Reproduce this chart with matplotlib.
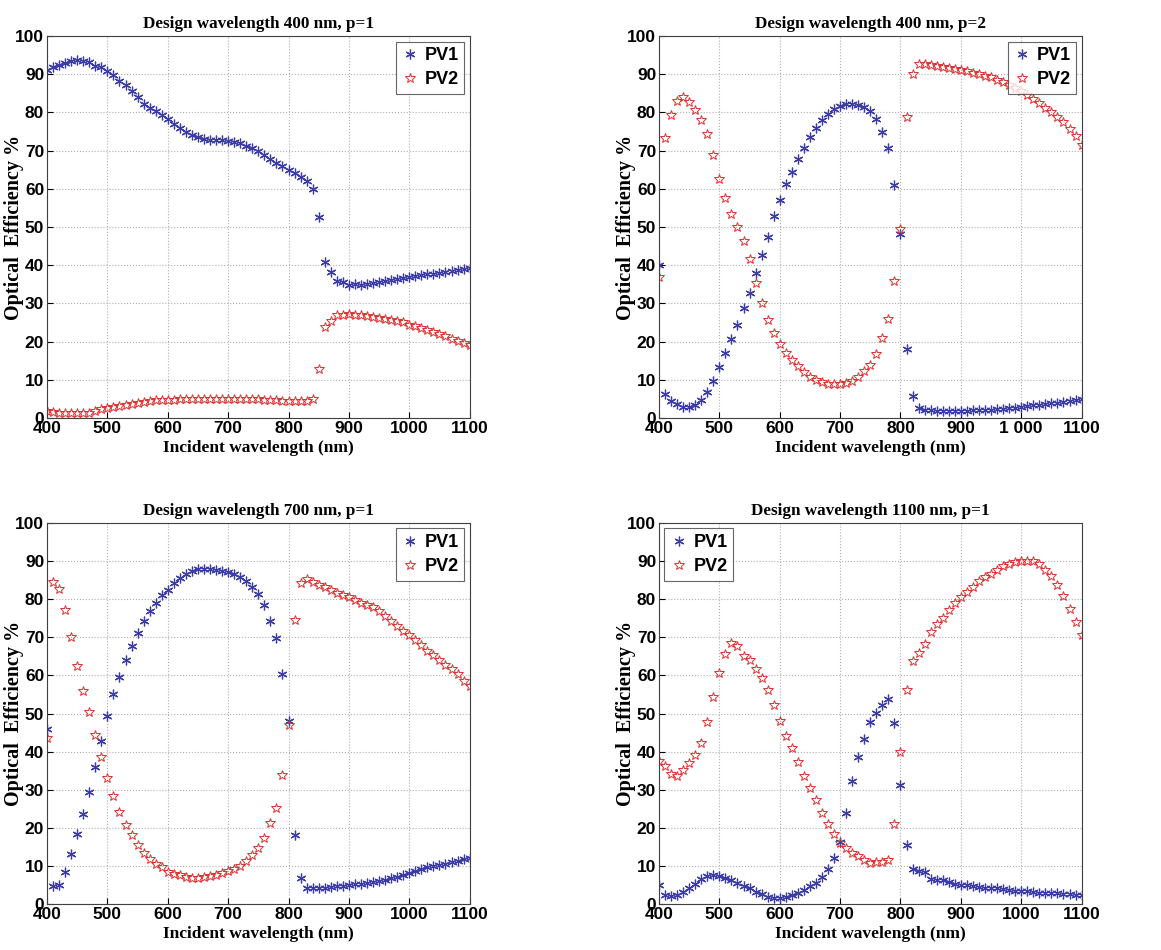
import numpy as np
import matplotlib
matplotlib.use("Agg")
import matplotlib.pyplot as plt
from matplotlib.ticker import FuncFormatter

wl = list(range(400, 1101, 10))

titles = [
    "Design wavelength 400 nm, p=1",
    "Design wavelength 400 nm, p=2",
    "Design wavelength 700 nm, p=1",
    "Design wavelength 1100 nm, p=1",
]

pv1_400_p1 = [91, 92, 92.5, 93, 93.5, 93.7, 93.5, 93.2, 92.3, 91.8,
              90.8, 89.8, 88.3, 87.2, 85.7, 84, 82.3, 81.2, 80.3, 79.4,
              78.3, 77, 75.9, 74.9, 74, 73.5, 73.1, 72.9, 72.8, 72.8,
              72.6, 72.3, 71.9, 71.3, 70.6, 69.8, 68.9, 67.8, 66.9, 65.9,
              65, 64.1, 63, 62, 60, 52.7, 40.8, 38.2, 36, 35.6,
              34.9, 35, 34.8, 35.1, 35.3, 35.5, 35.8, 36.1, 36.3, 36.6,
              36.9, 37.2, 37.5, 37.6, 37.8, 38, 38.2, 38.5, 38.7, 38.9,
              39.2]
pv2_400_p1 = [1.8, 1.6, 1.4, 1.3, 1.3, 1.2, 1.2, 1.4, 1.9, 2.3,
              2.7, 2.9, 3.1, 3.4, 3.6, 3.9, 4.3, 4.5, 4.6, 4.7,
              4.8, 4.8, 4.9, 5.0, 5.0, 4.9, 4.9, 4.9, 4.9, 4.9,
              4.9, 4.9, 4.9, 4.9, 4.9, 4.9, 4.8, 4.7, 4.6, 4.5,
              4.4, 4.4, 4.4, 4.4, 5.1, 12.9, 23.7, 25.5, 26.9, 26.9,
              27.3, 27.1, 26.9, 26.7, 26.5, 26.3, 26.0, 25.7, 25.4, 25.1,
              24.4, 24.0, 23.6, 23.1, 22.6, 22.0, 21.5, 20.8, 20.2, 19.7,
              19.0]

pv1_400_p2 = [40, 6.3, 4.4, 3.6, 3.0, 2.9, 3.4, 4.7, 6.7, 9.6,
              13.3, 17, 20.6, 24.4, 28.7, 32.8, 38, 42.8, 47.5, 52.8,
              57, 61.2, 64.5, 67.8, 70.8, 73.6, 76, 78, 79.5, 80.8,
              81.6, 82.2, 82.3, 82, 81.4, 80.5, 78.3, 74.9, 70.6, 60.9,
              48.1, 18, 5.8, 2.5, 2.2, 2.0, 1.9, 1.8, 1.8, 1.8,
              1.8, 1.9, 2.0, 2.0, 2.1, 2.2, 2.3, 2.4, 2.5, 2.7,
              2.9, 3.1, 3.3, 3.5, 3.7, 3.9, 4.0, 4.2, 4.5, 4.7,
              4.9]
pv2_400_p2 = [37, 73.3, 79.3, 83.1, 84, 82.7, 80.7, 78.1, 74.3, 68.9,
              62.5, 57.5, 53.4, 50.1, 46.4, 41.7, 35.3, 30, 25.6, 22.2,
              19.5, 17.1, 15.3, 13.6, 12.1, 10.7, 9.9, 9.3, 8.9, 8.8,
              8.9, 9.1, 9.7, 10.8, 12.2, 13.8, 16.7, 20.9, 25.9, 35.8,
              49.6, 78.7, 90, 92.7, 92.6, 92.5, 92.3, 92.0, 91.7, 91.4,
              91.1, 90.8, 90.4, 90.0, 89.6, 89.2, 88.6, 88.0, 87.3, 86.5,
              85.7, 84.7, 83.6, 82.6, 81.3, 80.2, 78.9, 77.4, 75.8, 73.9,
              71.6]

pv1_700_p1 = [46, 4.7, 5.0, 8.5, 13.2, 18.5, 23.6, 29.4, 35.9, 42.8,
              49.4, 55, 59.7, 64, 67.6, 71.1, 74.3, 77, 79, 81,
              82.5, 84.3, 85.6, 86.6, 87.3, 87.9, 88, 88, 87.8, 87.3,
              87.1, 86.7, 85.9, 84.8, 83.3, 81.5, 78.6, 74.4, 69.9, 60.5,
              48, 18.1, 6.7, 4.1, 4.1, 4.1, 4.3, 4.5, 4.6, 4.8,
              5.0, 5.2, 5.2, 5.4, 5.7, 6.0, 6.4, 6.7, 7.1, 7.6,
              8.2, 8.7, 9.2, 9.7, 9.9, 10.3, 10.6, 11.1, 11.4, 11.7,
              12.1]
pv2_700_p1 = [43.6, 84.5, 82.7, 77.2, 70.1, 62.6, 55.9, 50.3, 44.4, 38.6,
              33.1, 28.3, 24.1, 20.8, 18.0, 15.5, 13.4, 11.9, 10.6, 9.6,
              8.5, 7.8, 7.5, 7.0, 6.9, 6.9, 7.0, 7.3, 7.7, 8.1,
              8.7, 9.2, 10.0, 11.3, 12.8, 14.6, 17.2, 21.3, 25.1, 33.9,
              47, 74.5, 84.2, 85.4, 84.6, 83.8, 83.2, 82.3, 81.7, 81.1,
              80.5, 79.8, 79.1, 78.5, 77.9, 77.0, 75.5, 74.3, 73.1, 71.7,
              70.5, 69.2, 67.9, 66.5, 65.3, 64.1, 62.8, 61.6, 60.3, 58.5,
              57.2]

pv1_1100_p1 = [4.9, 2.4, 2.0, 2.4, 3.2, 4.2, 5.3, 6.6, 7.3, 7.6,
               7.3, 6.8, 6.2, 5.5, 4.8, 4.1, 3.2, 2.5, 1.9, 1.6,
               1.6, 1.9, 2.3, 2.8, 3.6, 4.6, 5.6, 7.1, 9.3, 12.0,
               16.3, 23.8, 32.4, 38.6, 43.4, 47.7, 50.2, 52.3, 53.9, 47.4,
               31.3, 15.5, 9.2, 8.7, 8.3, 6.6, 6.2, 6.2, 5.9, 5.2,
               5.0, 4.9, 4.8, 4.5, 4.3, 4.3, 4.2, 3.9, 3.6, 3.5,
               3.4, 3.3, 3.2, 3.0, 2.9, 2.9, 2.8, 2.7, 2.5, 2.4,
               2.4]
pv2_1100_p1 = [37.6, 36.1, 34.1, 33.7, 35.2, 37.1, 39.0, 42.2, 47.7, 54.3,
               60.6, 65.5, 68.4, 67.8, 65, 64, 61.7, 59.2, 56.2, 52.3,
               48, 44.1, 41, 37.3, 33.6, 30.4, 27.2, 24.0, 21.1, 18.4,
               16.1, 14.7, 13.3, 12.5, 11.5, 10.8, 11.1, 10.9, 11.5, 21,
               39.8, 56.3, 63.8, 65.9, 68.3, 71.3, 73.6, 75.1, 77.1, 79.1,
               80.6, 81.9, 83.3, 84.8, 85.9, 86.7, 87.8, 88.6, 89.3, 89.7,
               90, 90, 90, 89.2, 87.8, 86.2, 83.7, 80.8, 77.5, 74.1,
               70.7]

pv1_all = [pv1_400_p1, pv1_400_p2, pv1_700_p1, pv1_1100_p1]
pv2_all = [pv2_400_p1, pv2_400_p2, pv2_700_p1, pv2_1100_p1]
legend_loc = ["upper right", "upper right", "upper right", "upper left"]

sans = ["Liberation Sans", "DejaVu Sans"]
serif = ["Liberation Serif", "DejaVu Serif"]
plt.rcParams.update({
    "font.family": sans,
    "font.weight": "bold",
})

fig = plt.figure(figsize=(11.61, 9.5), dpi=100)
boxes = [
    (0.0405, 0.560, 0.364, 0.402),
    (0.5676, 0.560, 0.364, 0.402),
    (0.0405, 0.0484, 0.364, 0.401),
    (0.5676, 0.0484, 0.364, 0.401),
]

for k in range(4):
    ax = fig.add_axes(boxes[k])
    ax.plot(wl, pv1_all[k], linestyle="none", marker=(6, 2, 0), markersize=7,
            color="#3c3ca8", markeredgewidth=0.9, label="PV1")
    ax.plot(wl, pv2_all[k], linestyle="none", marker="*", markersize=7,
            markerfacecolor="none", markeredgecolor="#e03030",
            markeredgewidth=0.7, label="PV2")
    ax.set_xlim(400, 1100)
    ax.set_ylim(0, 100)
    ax.set_xticks(np.arange(400, 1101, 100))
    ax.set_yticks(np.arange(0, 101, 10))
    if k == 1:
        ax.xaxis.set_major_formatter(
            FuncFormatter(lambda v, p: "1 000" if int(v) == 1000 else f"{int(v)}"))
    ax.tick_params(direction="in", labelsize=12.5, length=4, pad=2)
    for lab in ax.get_xticklabels() + ax.get_yticklabels():
        lab.set_fontweight("bold")
    ax.grid(True, linestyle=":", color="#b0b0b0", linewidth=0.8)
    for s in ax.spines.values():
        s.set_color("#404040")
        s.set_linewidth(0.8)
    ax.set_title(titles[k], family=serif, fontweight="bold", fontsize=12.3, pad=6)
    ax.set_xlabel("Incident wavelength (nm)", family=serif, fontweight="bold",
                  fontsize=12.5, labelpad=3)
    ax.set_ylabel("Optical  Efficiency %", family=serif, fontweight="bold",
                  fontsize=14.5)
    ax.yaxis.set_label_coords(-0.054, 0.5)
    leg = ax.legend(loc=legend_loc[k], fancybox=False, edgecolor="#404040",
                    fontsize=13, handletextpad=0.3, borderaxespad=0.3,
                    handlelength=1.0, borderpad=0.3, labelspacing=0.4)
    for t in leg.get_texts():
        t.set_fontweight("bold")
    leg.get_frame().set_linewidth(0.8)

fig.savefig("out.png", dpi=100)
